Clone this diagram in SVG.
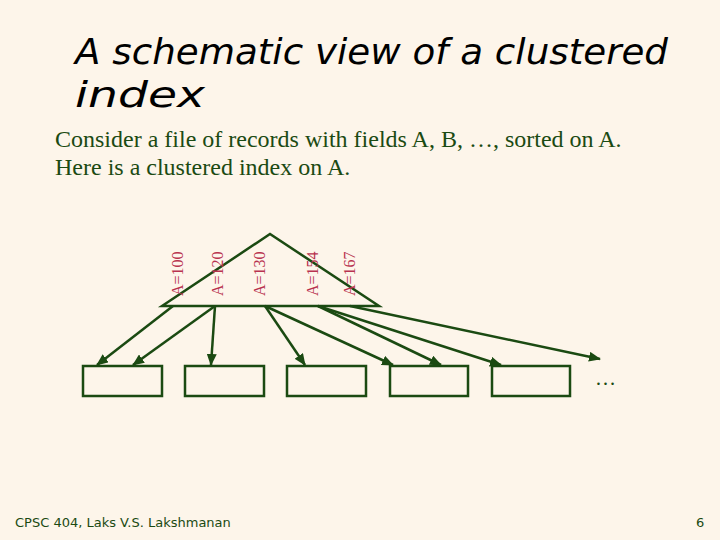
<svg xmlns="http://www.w3.org/2000/svg" width="720" height="540" viewBox="0 0 720 540">
<defs>
<style>
.title{font-family:"DejaVu Sans","Liberation Sans",sans-serif;font-style:italic;font-size:36px;fill:#000}
.body{font-family:"Liberation Serif","Times New Roman",serif;font-size:24px;fill:#1b4a12}
.dots{font-family:"Liberation Serif","Times New Roman",serif;font-size:21px;fill:#1b4a12}
.lbl{font-family:"Liberation Serif","Times New Roman",serif;font-size:16px;fill:#b8324f}
.foot{font-family:"DejaVu Sans","Liberation Sans",sans-serif;font-size:13px;fill:#1b4a12}
.shape{fill:none;stroke:#1b4a12;stroke-width:2.5}
.arr{stroke:#1b4a12;stroke-width:2.5;fill:none;marker-end:url(#ah)}
</style>
<marker id="ah" markerUnits="userSpaceOnUse" markerWidth="12" markerHeight="10" refX="11" refY="5" orient="auto">
<path d="M0,0 L12,5 L0,10 z" fill="#1b4a12"/>
</marker>
</defs>
<rect width="720" height="540" fill="#fdf5ea"/>
<text class="title" x="75" y="64" textLength="593" lengthAdjust="spacingAndGlyphs">A schematic view of a clustered</text>
<text class="title" x="75" y="107" textLength="130" lengthAdjust="spacingAndGlyphs">index</text>
<text class="body" x="55" y="147">Consider a file of records with fields A, B, …, sorted on A.</text>
<text class="body" x="55" y="175">Here is a clustered index on A.</text>
<g id="index">
<polygon class="shape" points="162,306 270,234 379,306"/>
<text class="lbl" transform="translate(183,296) rotate(-90)">A=100</text>
<text class="lbl" transform="translate(223,296) rotate(-90)">A=120</text>
<text class="lbl" transform="translate(265,296) rotate(-90)">A=130</text>
<text class="lbl" transform="translate(318,296) rotate(-90)">A=154</text>
<text class="lbl" transform="translate(355,296) rotate(-90)">A=167</text>
</g>
<g id="page1"><rect class="shape" x="83" y="366" width="79" height="30"/></g>
<g id="page2"><rect class="shape" x="185" y="366" width="79" height="30"/></g>
<g id="page3"><rect class="shape" x="287" y="366" width="79" height="30"/></g>
<g id="page4"><rect class="shape" x="390" y="366" width="78" height="30"/></g>
<g id="page5"><rect class="shape" x="492" y="366" width="78" height="30"/></g>
<g id="more"><text class="dots" x="595" y="385">…</text></g>
<g id="connectors">
<line class="arr" x1="173" y1="306" x2="97" y2="365"/>
<line class="arr" x1="215" y1="306" x2="133" y2="365"/>
<line class="arr" x1="215" y1="306" x2="211" y2="365"/>
<line class="arr" x1="265" y1="306" x2="305" y2="365"/>
<line class="arr" x1="265" y1="306" x2="393" y2="365"/>
<line class="arr" x1="318" y1="306" x2="441" y2="365"/>
<line class="arr" x1="318" y1="306" x2="501" y2="365"/>
<line class="arr" x1="350" y1="306" x2="600" y2="359"/>
</g>
<text class="foot" x="15" y="527">CPSC 404, Laks V.S. Lakshmanan</text>
<text class="foot" x="696" y="527">6</text>
</svg>
